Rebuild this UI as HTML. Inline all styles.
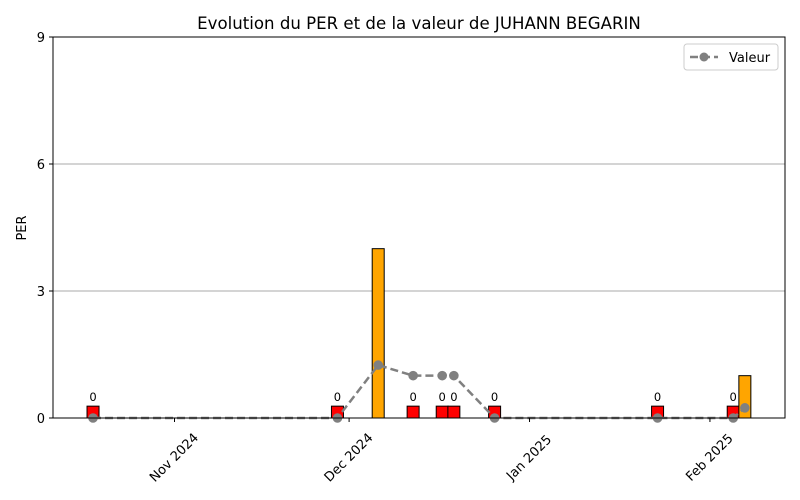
<!DOCTYPE html>
<html><head><meta charset="utf-8"><style>
body{margin:0;background:#fff;}
svg{display:block;font-family:"DejaVu Sans","Liberation Sans",sans-serif;}
</style></head><body>
<svg id="chart" width="800" height="500" viewBox="0 0 800 500">
<rect width="800" height="500" fill="#fff"/>
<text x="419" y="29" font-size="16.6" text-anchor="middle">Evolution du PER et de la valeur de JUHANN BEGARIN</text>
<g id="grid"></g>
<g id="bars"></g>
<g id="line"></g>
<g id="axes"></g>
<text transform="translate(26,228) rotate(-90)" font-size="13" text-anchor="middle">PER</text>
<g>
<rect x="684" y="44" width="94" height="26" fill="#fff" stroke="#ccc" rx="3"/>
<line x1="690" y1="57" x2="718" y2="57" stroke="#808080" stroke-width="2.5" stroke-dasharray="8,4"/>
<circle cx="704" cy="57" r="4.5" fill="#808080"/>
<text x="729" y="62" font-size="13">Valeur</text>
</g>
</svg>
<script>
const dayOffsets=[-14,28,35,41,46,48,55,83,96,98]; // days from 2024-11-01
const perValues=[0,0,4,0,0,0,0,0,0,1];
const valeurValues=[0,0,1.25,1,1,1,0,0,0,0.24];
const yTicks=[0,3,6,9];
const xTickLabels=["Nov 2024","Dec 2024","Jan 2025","Feb 2025"];
const xTickDays=[0,30,61,92];
const NS="http://www.w3.org/2000/svg";
const L=53,R=785,T=37,B=418;
const x=d=>174.5+d*5.82;
const y=v=>B-(v/9)*(B-T);
function mk(tag,attrs,parent){const e=document.createElementNS(NS,tag);for(const k in attrs)e.setAttribute(k,attrs[k]);document.getElementById(parent).appendChild(e);return e;}
yTicks.forEach(t=>{
 if(t>0&&t<9){const g=mk('line',{x1:L,x2:R,y1:y(t),y2:y(t),stroke:'#a8a8a8','stroke-width':0.9},'grid');
 
 }
 const tk=mk('line',{x1:L-4,x2:L,y1:y(t),y2:y(t),stroke:'#000'},'axes');
 
 
 const tl=mk('text',{x:L-8,y:y(t)+5,'font-size':13,'text-anchor':'end'},'axes');
 tl.textContent=t;
 
 
});
xTickDays.forEach((d,i)=>{
 const tk=mk('line',{x1:x(d),x2:x(d),y1:B,y2:B+4,stroke:'#000'},'axes');
 
 
 const tl=mk('text',{x:0,y:0,'font-size':13,'text-anchor':'middle','dominant-baseline':'central',transform:`translate(${x(d)},${B+40}) rotate(-45)`},'axes');
 tl.textContent=xTickLabels[i];
 
 
});
const bw=12;
dayOffsets.forEach((d,i)=>{
 const v=perValues[i];
 const h=v>0?v:0.28;
 const r=mk('rect',{x:x(d)-bw/2,y:y(h),width:bw,height:B-y(h),fill:v>0?'#ffa500':'#ff0000',stroke:'#000','stroke-width':1},'bars');
 
 
 if(v<=0){const t=mk('text',{x:x(d),y:y(h)-5,'font-size':11.5,'text-anchor':'middle'},'bars');
 t.textContent='0';
 
 }
});
const pts=dayOffsets.map((d,i)=>x(d)+','+y(valeurValues[i])).join(' ');
const pl=mk('polyline',{points:pts,fill:'none',stroke:'#808080','stroke-width':2.5,'stroke-dasharray':'8,4'},'line');


dayOffsets.forEach((d,i)=>{
 const c=mk('circle',{cx:x(d),cy:y(valeurValues[i]),r:4.8,fill:'#808080'},'line');
 
 
});
const fr=mk('rect',{x:L,y:T,width:R-L,height:B-T,fill:'none',stroke:'#000','stroke-width':1},'axes');


</script>
</body></html>
